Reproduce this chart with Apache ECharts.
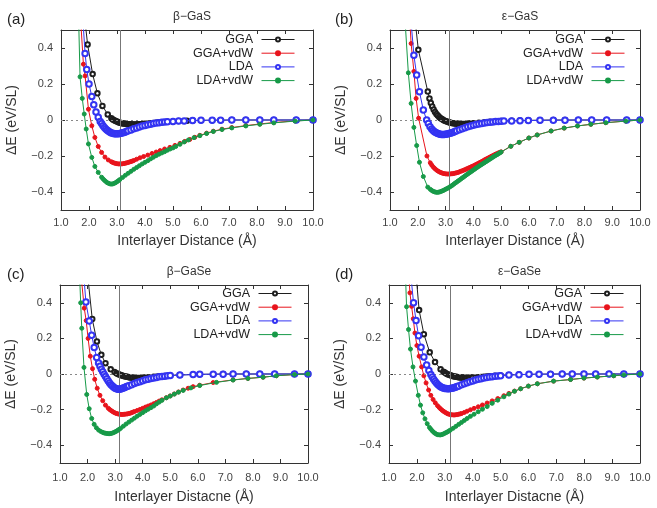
<!DOCTYPE html>
<html><head><meta charset="utf-8">
<script src="https://cdn.jsdelivr.net/npm/echarts@6/dist/echarts.min.js"></script>
<style>html,body{margin:0;padding:0;background:#fff}#c{width:657px;height:508px}</style>
</head><body><div id="c"></div>
<script>
const panelTitles = ['β−GaS', 'ε−GaS', 'β−GaSe', 'ε−GaSe'];
const panelTags = ['(a)', '(b)', '(c)', '(d)'];
const xAxisTitles = ['Interlayer Distance (Å)', 'Interlayer Distance (Å)', 'Interlayer Distacne (Å)', 'Interlayer Distacne (Å)'];
const yAxisTitle = 'ΔE (eV/SL)';
const seriesNames = ['GGA', 'GGA+vdW', 'LDA', 'LDA+vdW'];
const yTicks = [-0.4, -0.2, 0, 0.2, 0.4];
const refLineX = [3.1, 3.15, 3.14, 3.2];

// (a) beta-GaS
const aGGA = [[1.85,0.56],[1.95,0.42],[2.13,0.255],[2.3,0.148],[2.48,0.078],[2.67,0.031],[2.8,0.01],[2.85,0.003],[2.9,-0.002],[2.95,-0.006],[3.0,-0.009],[3.05,-0.012],[3.1,-0.015],[3.15,-0.017],[3.2,-0.019],[3.25,-0.02],[3.3,-0.021],[3.35,-0.022],[3.4,-0.023],[3.45,-0.024],[3.5,-0.024],[3.55,-0.025],[3.6,-0.025],[3.65,-0.025],[3.7,-0.025],[3.75,-0.024],[3.8,-0.024],[3.85,-0.023],[3.9,-0.023],[3.95,-0.022],[4.0,-0.021],[4.1,-0.02],[4.2,-0.018],[4.3,-0.016],[4.4,-0.015],[4.5,-0.013],[4.6,-0.012],[4.8,-0.01],[5.0,-0.008],[5.2,-0.006],[5.5,-0.004],[5.7,-0.003],[6.0,-0.002],[6.4,-0.001],[6.7,-0.001],[7.1,0],[7.6,0],[8.1,0],[8.6,0],[9.4,0],[10,0]];
const aGGAvdW = [[1.7,0.56],[1.8,0.31],[1.86,0.245],[1.98,0.06],[2.1,-0.032],[2.21,-0.097],[2.33,-0.147],[2.45,-0.18],[2.57,-0.206],[2.69,-0.222],[2.8,-0.232],[2.85,-0.236],[2.9,-0.239],[2.95,-0.241],[3.0,-0.243],[3.05,-0.244],[3.1,-0.244],[3.15,-0.244],[3.2,-0.243],[3.25,-0.242],[3.3,-0.24],[3.35,-0.238],[3.4,-0.236],[3.45,-0.233],[3.5,-0.231],[3.55,-0.228],[3.6,-0.225],[3.7,-0.218],[3.82,-0.21],[3.95,-0.203],[4.1,-0.195],[4.25,-0.186],[4.4,-0.178],[4.54,-0.17],[4.7,-0.161],[4.89,-0.152],[5.07,-0.141],[5.25,-0.13],[5.42,-0.119],[5.6,-0.108],[5.78,-0.096],[5.96,-0.085],[6.2,-0.073],[6.44,-0.062],[6.75,-0.051],[7.1,-0.042],[7.6,-0.031],[8.1,-0.022],[8.6,-0.014],[9.36,-0.005],[10,0]];
const aLDA = [[1.78,0.56],[1.86,0.37],[1.92,0.28],[2.0,0.2],[2.1,0.13],[2.17,0.085],[2.25,0.045],[2.33,0.015],[2.4,-0.008],[2.45,-0.02],[2.5,-0.032],[2.55,-0.042],[2.6,-0.05],[2.65,-0.057],[2.7,-0.063],[2.75,-0.068],[2.8,-0.072],[2.85,-0.074],[2.9,-0.076],[2.95,-0.077],[3.0,-0.077],[3.05,-0.076],[3.1,-0.075],[3.15,-0.073],[3.2,-0.071],[3.25,-0.069],[3.3,-0.066],[3.35,-0.063],[3.4,-0.06],[3.5,-0.055],[3.6,-0.049],[3.7,-0.044],[3.8,-0.039],[3.9,-0.034],[4.0,-0.03],[4.1,-0.026],[4.2,-0.023],[4.3,-0.02],[4.4,-0.017],[4.5,-0.015],[4.6,-0.013],[4.7,-0.011],[4.8,-0.01],[5.0,-0.008],[5.2,-0.006],[5.4,-0.005],[5.7,-0.003],[6.0,-0.002],[6.4,-0.001],[6.7,-0.001],[7.1,0],[7.6,0],[8.1,0],[8.6,0],[9.4,0],[10,0]];
const aLDAvdW = [[1.63,0.56],[1.68,0.24],[1.76,0.12],[1.83,0.033],[1.9,-0.05],[1.98,-0.133],[2.1,-0.208],[2.21,-0.258],[2.33,-0.291],[2.45,-0.318],[2.5,-0.327],[2.55,-0.335],[2.6,-0.342],[2.65,-0.348],[2.7,-0.352],[2.75,-0.355],[2.8,-0.356],[2.85,-0.355],[2.9,-0.352],[2.95,-0.348],[3.0,-0.343],[3.05,-0.337],[3.1,-0.331],[3.2,-0.319],[3.3,-0.307],[3.4,-0.296],[3.5,-0.285],[3.6,-0.274],[3.7,-0.264],[3.8,-0.254],[3.9,-0.244],[4.0,-0.235],[4.1,-0.226],[4.2,-0.216],[4.3,-0.207],[4.4,-0.198],[4.5,-0.19],[4.6,-0.183],[4.7,-0.176],[4.8,-0.168],[4.9,-0.161],[5.0,-0.155],[5.1,-0.147],[5.25,-0.135],[5.4,-0.122],[5.55,-0.111],[5.75,-0.098],[5.96,-0.087],[6.2,-0.075],[6.44,-0.064],[6.75,-0.053],[7.1,-0.044],[7.6,-0.033],[8.1,-0.024],[8.6,-0.016],[9.36,-0.006],[10,0]];

// (b) epsilon-GaS
const bGGA = [[1.9,0.56],[2.02,0.39],[2.36,0.158],[2.42,0.12],[2.47,0.095],[2.52,0.075],[2.57,0.058],[2.62,0.045],[2.67,0.034],[2.72,0.025],[2.77,0.017],[2.82,0.01],[2.87,0.005],[2.92,0.0],[2.97,-0.004],[3.02,-0.007],[3.07,-0.01],[3.12,-0.013],[3.17,-0.015],[3.22,-0.017],[3.27,-0.018],[3.32,-0.019],[3.37,-0.02],[3.42,-0.021],[3.47,-0.021],[3.52,-0.022],[3.57,-0.022],[3.62,-0.022],[3.67,-0.022],[3.72,-0.022],[3.77,-0.021],[3.82,-0.021],[3.87,-0.02],[3.92,-0.019],[4.0,-0.018],[4.2,-0.015],[4.4,-0.012],[4.6,-0.01],[4.8,-0.008],[5.0,-0.006],[5.38,-0.004],[5.68,-0.003],[5.98,-0.002],[6.4,-0.001],[6.88,0],[7.3,0],[7.78,0],[8.26,0],[8.8,0],[9.52,0],[10,0]];
const bGGAvdW = [[1.71,0.56],[1.76,0.425],[1.86,0.27],[1.94,0.12],[2.03,0.01],[2.33,-0.2],[2.45,-0.238],[2.5,-0.25],[2.55,-0.26],[2.6,-0.268],[2.65,-0.275],[2.7,-0.281],[2.75,-0.286],[2.8,-0.29],[2.85,-0.293],[2.9,-0.296],[2.95,-0.298],[3.0,-0.299],[3.05,-0.3],[3.1,-0.3],[3.15,-0.3],[3.2,-0.299],[3.25,-0.298],[3.3,-0.297],[3.35,-0.295],[3.4,-0.293],[3.45,-0.291],[3.5,-0.288],[3.55,-0.285],[3.6,-0.282],[3.65,-0.279],[3.7,-0.276],[3.75,-0.272],[3.8,-0.269],[3.85,-0.265],[3.9,-0.262],[3.95,-0.258],[4.0,-0.255],[4.05,-0.251],[4.1,-0.247],[4.15,-0.243],[4.2,-0.239],[4.25,-0.235],[4.3,-0.231],[4.35,-0.227],[4.4,-0.222],[4.45,-0.218],[4.5,-0.214],[4.55,-0.21],[4.6,-0.206],[4.65,-0.202],[4.7,-0.198],[4.75,-0.194],[4.8,-0.19],[4.85,-0.187],[4.9,-0.183],[4.95,-0.18],[5.0,-0.177],[5.35,-0.146],[5.65,-0.124],[6.0,-0.1],[6.3,-0.083],[6.8,-0.061],[7.27,-0.045],[7.75,-0.033],[8.23,-0.024],[8.77,-0.015],[9.49,-0.006],[10,0]];
const bLDA = [[1.75,0.56],[1.86,0.36],[1.96,0.25],[2.06,0.157],[2.2,0.055],[2.32,0.0],[2.38,-0.02],[2.44,-0.037],[2.5,-0.05],[2.55,-0.058],[2.6,-0.065],[2.65,-0.07],[2.7,-0.074],[2.75,-0.077],[2.8,-0.079],[2.85,-0.08],[2.9,-0.08],[2.95,-0.08],[3.0,-0.079],[3.05,-0.078],[3.1,-0.076],[3.15,-0.074],[3.2,-0.072],[3.25,-0.069],[3.3,-0.066],[3.35,-0.063],[3.4,-0.06],[3.5,-0.054],[3.6,-0.048],[3.7,-0.043],[3.8,-0.038],[3.9,-0.033],[4.0,-0.029],[4.1,-0.025],[4.2,-0.022],[4.3,-0.019],[4.4,-0.016],[4.5,-0.014],[4.6,-0.012],[4.7,-0.011],[4.8,-0.009],[4.9,-0.008],[5.0,-0.007],[5.1,-0.006],[5.38,-0.005],[5.68,-0.004],[5.98,-0.003],[6.4,-0.002],[6.88,-0.001],[7.3,-0.001],[7.78,0],[8.26,0],[8.8,0],[9.52,0],[10,0]];
const bLDAvdW = [[1.555,0.52],[1.66,0.262],[1.76,0.092],[1.86,-0.041],[1.96,-0.142],[2.06,-0.235],[2.2,-0.314],[2.36,-0.373],[2.45,-0.385],[2.5,-0.391],[2.55,-0.396],[2.6,-0.399],[2.65,-0.401],[2.7,-0.402],[2.75,-0.401],[2.8,-0.399],[2.85,-0.396],[2.9,-0.393],[2.95,-0.389],[3.0,-0.385],[3.05,-0.381],[3.1,-0.377],[3.15,-0.372],[3.2,-0.367],[3.25,-0.362],[3.3,-0.356],[3.35,-0.35],[3.4,-0.345],[3.45,-0.339],[3.5,-0.334],[3.55,-0.328],[3.6,-0.322],[3.65,-0.317],[3.7,-0.311],[3.75,-0.305],[3.8,-0.3],[3.85,-0.294],[3.9,-0.289],[3.95,-0.284],[4.0,-0.278],[4.05,-0.273],[4.1,-0.267],[4.15,-0.262],[4.2,-0.257],[4.25,-0.252],[4.3,-0.247],[4.35,-0.242],[4.4,-0.237],[4.45,-0.232],[4.5,-0.227],[4.55,-0.222],[4.6,-0.217],[4.65,-0.212],[4.7,-0.207],[4.75,-0.202],[4.8,-0.197],[4.85,-0.193],[4.9,-0.188],[4.95,-0.183],[5.0,-0.178],[5.35,-0.146],[5.65,-0.124],[6.0,-0.1],[6.3,-0.083],[6.8,-0.061],[7.27,-0.045],[7.75,-0.033],[8.23,-0.024],[8.77,-0.015],[9.49,-0.006],[10,0]];

// (c) beta-GaSe
const cGGA = [[2.0,0.56],[2.17,0.309],[2.34,0.183],[2.5,0.108],[2.65,0.061],[2.84,0.026],[2.98,0.011],[3.05,0.004],[3.1,0.0],[3.15,-0.003],[3.2,-0.006],[3.25,-0.009],[3.3,-0.011],[3.35,-0.013],[3.4,-0.015],[3.45,-0.016],[3.5,-0.018],[3.55,-0.019],[3.6,-0.02],[3.65,-0.021],[3.7,-0.021],[3.75,-0.022],[3.8,-0.022],[3.85,-0.022],[3.9,-0.022],[3.95,-0.022],[4.0,-0.021],[4.05,-0.021],[4.1,-0.02],[4.15,-0.02],[4.2,-0.019],[4.3,-0.018],[4.4,-0.016],[4.5,-0.015],[4.6,-0.013],[4.8,-0.011],[5.0,-0.008],[5.35,-0.005],[5.83,-0.003],[6.07,-0.002],[6.56,-0.001],[6.92,0],[7.28,0],[7.76,0],[8.25,0],[8.79,0],[9.51,0],[10,0]];
const cGGAvdW = [[1.76,0.56],[1.88,0.37],[1.95,0.3],[2.02,0.2],[2.1,0.1],[2.18,0.03],[2.26,-0.03],[2.35,-0.08],[2.45,-0.12],[2.55,-0.15],[2.65,-0.175],[2.75,-0.192],[2.8,-0.199],[2.85,-0.205],[2.9,-0.21],[2.95,-0.215],[3.0,-0.219],[3.05,-0.222],[3.1,-0.224],[3.15,-0.226],[3.2,-0.227],[3.25,-0.227],[3.3,-0.227],[3.35,-0.226],[3.4,-0.225],[3.45,-0.224],[3.5,-0.222],[3.55,-0.22],[3.6,-0.217],[3.65,-0.214],[3.7,-0.211],[3.8,-0.205],[3.9,-0.199],[4.0,-0.193],[4.1,-0.186],[4.2,-0.18],[4.3,-0.174],[4.4,-0.167],[4.5,-0.16],[4.6,-0.152],[4.7,-0.145],[4.86,-0.133],[5.0,-0.123],[5.15,-0.112],[5.3,-0.101],[5.47,-0.09],[5.65,-0.08],[5.83,-0.071],[6.07,-0.063],[6.56,-0.048],[7.28,-0.033],[7.82,-0.025],[8.37,-0.018],[8.85,-0.01],[9.51,-0.003],[10,0]];
const cLDA = [[1.86,0.56],[1.94,0.404],[2.06,0.298],[2.15,0.218],[2.24,0.149],[2.33,0.093],[2.4,0.062],[2.45,0.043],[2.5,0.027],[2.55,0.012],[2.6,-0.001],[2.65,-0.014],[2.7,-0.027],[2.75,-0.039],[2.8,-0.05],[2.85,-0.06],[2.9,-0.068],[2.95,-0.075],[3.0,-0.08],[3.05,-0.083],[3.1,-0.085],[3.15,-0.085],[3.2,-0.084],[3.25,-0.082],[3.3,-0.079],[3.35,-0.076],[3.4,-0.072],[3.45,-0.069],[3.5,-0.066],[3.6,-0.06],[3.7,-0.054],[3.8,-0.048],[3.9,-0.043],[4.0,-0.038],[4.1,-0.033],[4.2,-0.029],[4.3,-0.025],[4.4,-0.022],[4.5,-0.019],[4.6,-0.016],[4.7,-0.014],[4.8,-0.012],[4.9,-0.01],[5.0,-0.009],[5.35,-0.006],[5.83,-0.003],[6.07,-0.002],[6.56,-0.001],[6.92,-0.001],[7.28,0],[7.76,0],[8.25,0],[8.79,0],[9.51,0],[10,0]];
const cLDAvdW = [[1.71,0.56],[1.75,0.4],[1.79,0.257],[1.87,0.037],[1.97,-0.115],[2.06,-0.195],[2.15,-0.25],[2.24,-0.283],[2.32,-0.302],[2.4,-0.315],[2.48,-0.323],[2.55,-0.328],[2.6,-0.331],[2.65,-0.333],[2.7,-0.334],[2.75,-0.335],[2.8,-0.335],[2.85,-0.334],[2.9,-0.332],[2.95,-0.329],[3.0,-0.325],[3.05,-0.321],[3.1,-0.316],[3.15,-0.311],[3.2,-0.305],[3.3,-0.293],[3.4,-0.281],[3.5,-0.27],[3.6,-0.259],[3.7,-0.248],[3.8,-0.237],[3.9,-0.227],[4.0,-0.217],[4.1,-0.207],[4.2,-0.198],[4.3,-0.189],[4.4,-0.18],[4.5,-0.168],[4.6,-0.158],[4.7,-0.148],[4.86,-0.134],[5.0,-0.124],[5.15,-0.113],[5.3,-0.102],[5.47,-0.092],[5.75,-0.078],[6.07,-0.065],[6.68,-0.047],[7.28,-0.034],[7.82,-0.025],[8.37,-0.018],[8.85,-0.01],[9.51,-0.003],[10,0]];

// (d) epsilon-GaSe
const dGGA = [[1.97,0.56],[2.08,0.359],[2.25,0.224],[2.46,0.122],[2.65,0.067],[2.85,0.026],[2.95,0.013],[3.0,0.008],[3.05,0.003],[3.1,-0.001],[3.15,-0.004],[3.2,-0.007],[3.25,-0.01],[3.3,-0.012],[3.35,-0.014],[3.4,-0.015],[3.45,-0.017],[3.5,-0.018],[3.55,-0.019],[3.6,-0.019],[3.65,-0.02],[3.7,-0.02],[3.75,-0.021],[3.8,-0.021],[3.85,-0.021],[3.9,-0.021],[3.95,-0.02],[4.0,-0.02],[4.1,-0.019],[4.2,-0.018],[4.3,-0.017],[4.4,-0.016],[4.5,-0.014],[4.6,-0.013],[4.8,-0.01],[5.0,-0.008],[5.3,-0.005],[5.66,-0.003],[6.02,-0.002],[6.38,-0.001],[6.79,0],[7.21,0],[7.57,0],[7.99,0],[8.41,0],[8.89,0],[9.42,0],[10,0]];
const dGGAvdW = [[1.71,0.56],[1.75,0.456],[1.81,0.38],[1.87,0.31],[1.93,0.23],[2.0,0.16],[2.08,0.1],[2.17,0.04],[2.25,-0.01],[2.33,-0.05],[2.42,-0.09],[2.5,-0.12],[2.58,-0.143],[2.66,-0.162],[2.74,-0.178],[2.8,-0.188],[2.85,-0.196],[2.9,-0.203],[2.95,-0.209],[3.0,-0.214],[3.05,-0.219],[3.1,-0.223],[3.15,-0.226],[3.2,-0.228],[3.25,-0.229],[3.3,-0.23],[3.35,-0.23],[3.4,-0.229],[3.45,-0.228],[3.5,-0.226],[3.55,-0.224],[3.6,-0.222],[3.7,-0.216],[3.8,-0.209],[3.92,-0.201],[4.05,-0.193],[4.2,-0.184],[4.35,-0.174],[4.52,-0.163],[4.7,-0.151],[4.9,-0.138],[5.12,-0.122],[5.3,-0.109],[5.5,-0.096],[5.72,-0.083],[6.0,-0.068],[6.32,-0.055],[6.9,-0.04],[7.51,-0.031],[7.99,-0.023],[8.47,-0.017],[9.06,-0.01],[9.42,-0.005],[10,0]];
const dLDA = [[1.78,0.56],[1.88,0.4],[1.97,0.3],[2.06,0.215],[2.15,0.15],[2.25,0.095],[2.35,0.05],[2.43,0.02],[2.5,-0.003],[2.55,-0.017],[2.6,-0.03],[2.65,-0.041],[2.7,-0.051],[2.75,-0.059],[2.8,-0.066],[2.85,-0.072],[2.9,-0.076],[2.95,-0.079],[3.0,-0.081],[3.05,-0.082],[3.1,-0.083],[3.15,-0.083],[3.2,-0.082],[3.25,-0.08],[3.3,-0.078],[3.35,-0.076],[3.4,-0.073],[3.45,-0.07],[3.5,-0.067],[3.6,-0.061],[3.7,-0.055],[3.8,-0.049],[3.9,-0.044],[4.0,-0.039],[4.1,-0.034],[4.2,-0.03],[4.3,-0.026],[4.4,-0.023],[4.5,-0.02],[4.6,-0.017],[4.7,-0.015],[4.8,-0.013],[4.9,-0.011],[5.0,-0.01],[5.3,-0.006],[5.66,-0.004],[6.02,-0.002],[6.38,-0.001],[6.79,-0.001],[7.21,0],[7.57,0],[7.99,0],[8.41,0],[8.89,0],[9.42,0],[10,0]];
const dLDAvdW = [[1.59,0.56],[1.63,0.378],[1.7,0.25],[1.77,0.14],[1.86,0.04],[1.95,-0.04],[2.05,-0.12],[2.13,-0.175],[2.21,-0.218],[2.29,-0.252],[2.37,-0.279],[2.45,-0.3],[2.5,-0.31],[2.55,-0.319],[2.6,-0.327],[2.65,-0.333],[2.7,-0.338],[2.75,-0.341],[2.8,-0.342],[2.85,-0.342],[2.9,-0.34],[2.95,-0.337],[3.0,-0.333],[3.05,-0.329],[3.1,-0.325],[3.15,-0.32],[3.2,-0.315],[3.3,-0.305],[3.4,-0.294],[3.5,-0.283],[3.6,-0.272],[3.7,-0.261],[3.8,-0.25],[3.92,-0.238],[4.05,-0.226],[4.2,-0.212],[4.35,-0.198],[4.52,-0.183],[4.7,-0.165],[4.9,-0.147],[5.12,-0.128],[5.3,-0.113],[5.5,-0.097],[5.72,-0.083],[6.0,-0.068],[6.32,-0.055],[6.9,-0.04],[7.51,-0.031],[7.99,-0.023],[8.47,-0.017],[9.06,-0.01],[9.42,-0.005],[10,0]];

const panelData = [
  [aGGA, aGGAvdW, aLDA, aLDAvdW],
  [bGGA, bGGAvdW, bLDA, bLDAvdW],
  [cGGA, cGGAvdW, cLDA, cLDAvdW],
  [dGGA, dGGAvdW, dLDA, dLDAvdW]
];

// ---- layout / style ----
const FONT = '"Liberation Sans", Arial, Helvetica, sans-serif';
const grids = [
  {left: 61, top: 30, width: 252, height: 180},
  {left: 390, top: 30, width: 250, height: 180},
  {left: 60, top: 285, width: 248, height: 178},
  {left: 389, top: 285, width: 251, height: 178}
];
const legendIconRight = [295, 625, 292, 624];
const legendTop = [33, 33, 287, 287];
const xLabelMargin = [7, 7, 9, 9];
const xNameGap = [24, 24, 27, 27];
const styles = [
  {color: '#1e1e1e', symbol: 'emptyCircle', size: 4.5},
  {color: '#e8141c', symbol: 'circle', size: 4},
  {color: '#3434f2', symbol: 'emptyCircle', size: 5.5},
  {color: '#179a48', symbol: 'circle', size: 4}
];
const axisCol = '#333';
const fmtY = v => v === 0 ? '0' : (v < 0 ? '−' + Math.abs(v).toFixed(1) : v.toFixed(1));

const xAxes = [], yAxes = [], series = [], titles = [], legends = [];
grids.forEach((g, i) => {
  const common = {gridIndex: i, min: 1, max: 10, interval: 1, splitLine: {show: false},
    axisLine: {show: true, onZero: false, lineStyle: {color: axisCol, width: 1}},
    axisTick: {show: true, inside: true, length: 4, lineStyle: {color: axisCol}}};
  xAxes.push(Object.assign({}, common, {position: 'bottom',
    name: xAxisTitles[i], nameLocation: 'middle', nameGap: xNameGap[i],
    nameTextStyle: {fontFamily: FONT, fontSize: 14, color: '#333'},
    axisLabel: {fontFamily: FONT, fontSize: 11, color: '#444', margin: xLabelMargin[i], formatter: v => v.toFixed(1)}}));
  xAxes.push(Object.assign({}, common, {position: 'top', axisLabel: {show: false}}));
  const ycommon = {gridIndex: i, min: -0.5, max: 0.5, interval: 0.1, splitLine: {show: false},
    axisLine: {show: true, onZero: false, lineStyle: {color: axisCol, width: 1}},
    axisTick: {show: true, inside: true, length: 4, customValues: yTicks, lineStyle: {color: axisCol}}};
  yAxes.push(Object.assign({}, ycommon, {position: 'left',
    name: yAxisTitle, nameLocation: 'middle', nameGap: 42, nameRotate: 90,
    nameTextStyle: {fontFamily: FONT, fontSize: 14, color: '#333'},
    axisLabel: {fontFamily: FONT, fontSize: 11, color: '#444', margin: 8, customValues: yTicks, formatter: fmtY}}));
  yAxes.push(Object.assign({}, ycommon, {position: 'right', axisLabel: {show: false}}));

  panelData[i].forEach((d, k) => {
    const st = styles[k];
    const s = {
      type: 'line', name: seriesNames[k], xAxisIndex: 2 * i, yAxisIndex: 2 * i,
      data: d, symbol: st.symbol, symbolSize: st.size, showSymbol: true, clip: true,
      lineStyle: {color: st.color, width: 1},
      itemStyle: {color: st.color, borderColor: st.color, borderWidth: 1},
      z: 3 + k
    };
    if (k === 0) {
      s.markLine = {
        silent: true, symbol: 'none', animation: false, label: {show: false},
        data: [
          {yAxis: 0, lineStyle: {color: '#888', type: [2, 3], width: 1}},
          {xAxis: refLineX[i], lineStyle: {color: '#777', type: 'solid', width: 1}}
        ]
      };
    }
    series.push(s);
  });

  titles.push({text: panelTitles[i], left: g.left + g.width / 2, top: g.top - 24, textAlign: 'center',
    textStyle: {fontFamily: FONT, fontSize: 12, fontWeight: 'normal', color: '#333'}});
  titles.push({text: panelTags[i], left: i % 2 === 0 ? 2 : 330, top: g.top - 23,
    textStyle: {fontFamily: FONT, fontSize: 15, fontWeight: 'normal', color: '#222'}});

  legends.push({
    data: seriesNames, orient: 'vertical', align: 'right',
    right: 657 - legendIconRight[i], top: legendTop[i],
    itemWidth: 33, itemHeight: 5, itemGap: 0.7, padding: 0, selectedMode: false,
    formatter: n => n + ' ',
    lineStyle: {width: 1},
    textStyle: {fontFamily: FONT, fontSize: 12.5, color: '#222', lineHeight: 12}
  });
});

const chart = echarts.init(document.getElementById('c'), null, {renderer: 'canvas'});
chart.setOption({
  animation: false,
  backgroundColor: '#fff',
  title: titles,
  legend: legends,
  grid: grids.map(g => Object.assign({containLabel: false}, g)),
  xAxis: xAxes,
  yAxis: yAxes,
  series: series
});
</script>
</body></html>
